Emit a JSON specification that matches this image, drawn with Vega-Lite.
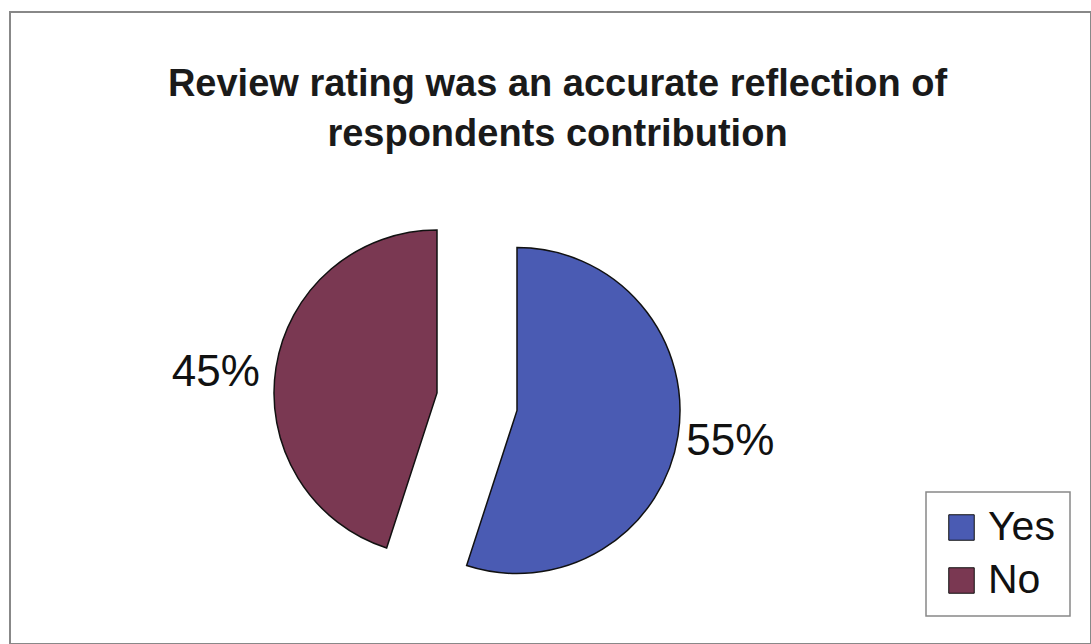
{
  "$schema": "https://vega.github.io/schema/vega-lite/v6.json",
  "autosize": "none",
  "width": 1081,
  "height": 632,
  "padding": {"left": 10, "top": 12, "right": 0, "bottom": 0},
  "background": "white",
  "view": {"stroke": "#888888", "strokeWidth": 2, "fill": "white"},
  "title": {
    "text": ["Review rating was an accurate reflection of", "respondents contribution"],
    "font": "Liberation Sans",
    "fontSize": 38,
    "fontWeight": "bold",
    "color": "#1a1a1a",
    "anchor": "middle",
    "baseline": "top",
    "lineHeight": 50,
    "offset": -142,
    "dx": 7
  },
  "data": {
    "values": [
      {"answer": "Yes", "percent": 55, "label": "55%", "order": 1},
      {"answer": "No", "percent": 45, "label": "45%", "order": 2}
    ]
  },
  "encoding": {
    "theta": {"field": "percent", "type": "quantitative", "stack": true},
    "order": {"field": "order", "type": "quantitative"}
  },
  "layer": [
    {
      "mark": {"type": "arc", "outerRadius": 163, "stroke": "#111111", "strokeWidth": 1.5, "xOffset": -33.5, "yOffset": 82.5},
      "encoding": {
        "color": {
          "field": "answer",
          "type": "nominal",
          "scale": {"domain": ["Yes", "No"], "range": ["#4A5BB3", "#7A3852"]},
          "legend": {"title": null}
        },
        "opacity": {"condition": {"test": "datum.answer === 'Yes'", "value": 1}, "value": 0}
      }
    },
    {
      "mark": {"type": "arc", "outerRadius": 163, "stroke": "#111111", "strokeWidth": 1.5, "xOffset": -113.5, "yOffset": 65},
      "encoding": {
        "color": {"field": "answer", "type": "nominal"},
        "opacity": {"condition": {"test": "datum.answer === 'No'", "value": 1}, "value": 0}
      }
    },
    {
      "mark": {"type": "text", "radius": 216, "font": "Liberation Sans", "fontSize": 44, "color": "#111111", "xOffset": -33.5, "yOffset": 80.5},
      "encoding": {
        "text": {"field": "label"},
        "opacity": {"condition": {"test": "datum.answer === 'Yes'", "value": 1}, "value": 0}
      }
    },
    {
      "mark": {"type": "text", "radius": 222, "font": "Liberation Sans", "fontSize": 44, "color": "#111111", "xOffset": -115.5, "yOffset": 80},
      "encoding": {
        "text": {"field": "label"},
        "opacity": {"condition": {"test": "datum.answer === 'No'", "value": 1}, "value": 0}
      }
    }
  ],
  "config": {
    "legend": {
      "orient": "none",
      "legendX": 916,
      "legendY": 480,
      "padding": 15,
      "rowPadding": 11,
      "strokeColor": "#888888",
      "strokeWidth": 1.5,
      "fillColor": "white",
      "symbolType": "square",
      "symbolSize": 650,
      "symbolStrokeColor": "#111111",
      "symbolStrokeWidth": 1,
      "symbolOpacity": 1,
      "labelFont": "Liberation Sans",
      "labelFontSize": 41,
      "labelColor": "#111111",
      "labelOffset": 6,
      "labelLimit": 200
    }
  }
}
